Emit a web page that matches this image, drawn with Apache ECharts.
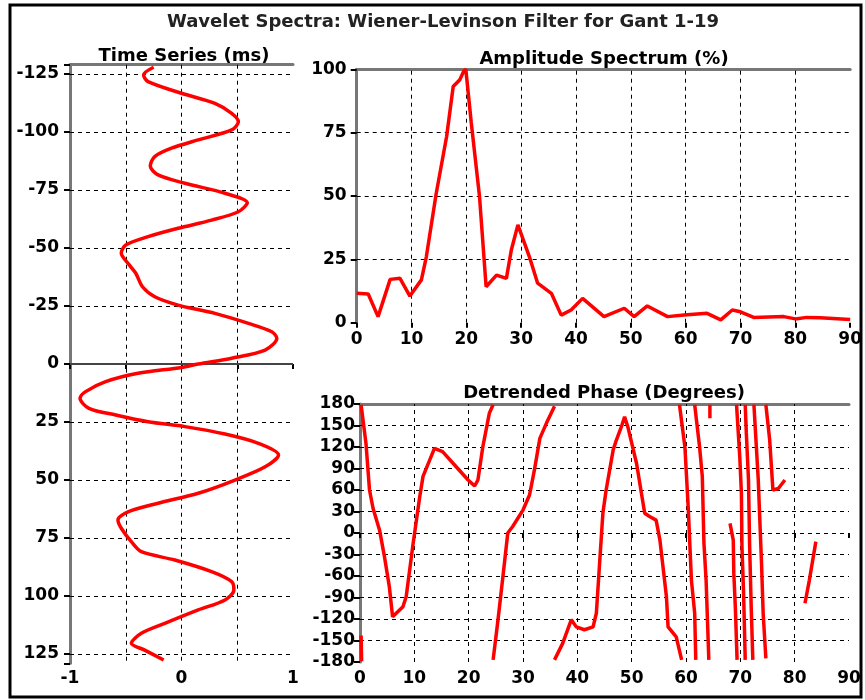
<!DOCTYPE html>
<html><head><meta charset="utf-8">
<script src="https://cdn.jsdelivr.net/npm/echarts@6/dist/echarts.min.js"></script>
<style>html,body{margin:0;padding:0;background:#fff}#c{width:865px;height:700px}</style>
</head><body><div id="c"></div>
<script>
const titleText = 'Wavelet Spectra: Wiener-Levinson Filter for Gant 1-19';
const panelTitles = ['Time Series (ms)', 'Amplitude Spectrum (%)', 'Detrended Phase (Degrees)'];

// Time series (time in ms, amplitude)
const tsTime  = [-127.9,-124.6,-121.7,-116.7,-112.3,-108,-104.4,-100.9,-96.6,-93,-89.4,-85.3,-81.5,-77.9,-73.6,-69.5,-65.6,-62,-58.5,-54.9,-51.3,-47.7,-43.4,-39.1,-33.3,-29,-25.4,-21.8,-17.5,-13.9,-11.1,-6,-2.5,0,1.5,4,7.6,11.9,14.8,19.1,22,24.9,27,30.2,34.2,39.2,44.3,50,55.7,60,63.7,67.2,70.8,76.6,80.9,84.5,89.5,93.8,97.4,101.7,106,111.8,116.1,120.4,123.3,127.6];
const tsValue = [-0.25,-0.34,-0.30,0.0,0.30,0.45,0.51,0.45,0.15,-0.09,-0.24,-0.28,-0.21,0.03,0.39,0.59,0.51,0.27,-0.03,-0.30,-0.50,-0.54,-0.48,-0.41,-0.35,-0.24,-0.03,0.30,0.60,0.81,0.855,0.75,0.45,0.15,0.0,-0.39,-0.68,-0.86,-0.91,-0.83,-0.59,-0.30,0.03,0.39,0.69,0.87,0.75,0.48,0.15,-0.21,-0.48,-0.57,-0.54,-0.45,-0.36,-0.06,0.27,0.45,0.47,0.39,0.15,-0.15,-0.36,-0.45,-0.33,-0.16];
const tsYTicks = [-125,-100,-75,-50,-25,0,25,50,75,100,125];
const tsYEndTicks = [-129,129];
const tsXTicks = [-1,-0.5,0,0.5,1];
const tsXLabels = [-1,0,1];

// Amplitude spectrum
const ampFreq  = [0,2.1,3.9,6.1,7.9,9.7,11.8,12.7,14.5,16.4,17.6,18.8,19.5,19.9,20.9,22.4,23.6,25.5,27.3,28.2,29.4,31.5,33,35.5,37.3,39.1,41.2,45.1,48.8,50.6,53,56.7,59.7,63.9,66.4,68.5,70,72.4,77.9,80,82.1,84.5,90];
const ampValue = [11.6,11.3,2.4,17.1,17.5,10.5,16.9,26,51,73.5,93.2,95.9,99.1,100,78.8,49.8,14.2,18.8,17.5,28.7,38.6,26,15.6,11.6,3,5,9.6,2.4,5.7,2.4,6.6,2.4,3,3.7,1.1,5,4.3,2.1,2.4,1.5,2.1,2,1.3];
const ampYTicks = [0,25,50,75,100];
const freqTicks = [0,10,20,30,40,50,60,70,80,90];

// Detrended phase: wrapped segments [freq, degrees]
const phaseSegments = [
  [[0.2,-143],[0.3,-179]],
  [[0.2,179],[1.1,125],[1.75,60],[2.4,34.5],[3.6,4],[4.5,-33],[5.4,-75],[6.0,-117],[7.9,-103],[8.5,-89],[9.7,-19],[11,51],[11.6,79],[13.7,118],[15.2,113.5],[17.7,92.5],[19.9,74],[21.1,65.6],[21.7,74],[22.6,120],[23.8,167],[24.5,179]],
  [[24.5,-177],[25.4,-121],[26.3,-61],[27.2,0],[28.1,9],[30,32],[31.2,53],[32.1,88],[33.1,132],[34.3,153],[35.8,177]],
  [[35.8,-177],[37.3,-154],[38.9,-121],[39.8,-131],[41.3,-135],[42.9,-131],[43.5,-112],[44.1,-42],[44.7,27.5],[45.3,60],[46.6,116],[47.2,130],[48.1,148],[48.7,162],[49.3,148],[50.9,97],[52.4,27.5],[53.3,23],[54.5,18],[55.2,-10],[56.4,-89],[56.7,-131],[58.2,-145],[59.2,-177]],
  [[58.8,179],[59.8,120],[60.4,37],[61,-66],[61.6,-112],[61.8,-177]],
  [[61.6,179],[62.5,120],[63,79],[63.3,-14],[63.7,-66],[64.2,-177]],
  [[64.4,179],[64.4,160]],
  [[68.1,13.5],[68.7,-10],[68.8,-56],[69.1,-107],[69.4,-177]],
  [[69.3,179],[69.9,106],[70.2,55],[70.3,-19],[70.6,-84],[70.9,-177]],
  [[70.9,179],[71.1,140],[71.5,74],[71.7,-14],[72,-103],[72.3,-177]],
  [[72.5,179],[73.3,74],[73.9,-42],[74.2,-112],[74.7,-175]],
  [[74.7,179],[75.4,130],[76,60],[77,62],[78.2,74]],
  [[81.9,-98],[82.7,-66],[83.9,-12]]
];
const phaseYTicks = [-180,-150,-120,-90,-60,-30,0,30,60,90,120,150,180];

const FONT = 'DejaVu Sans';
const RED = '#ff0000';
const AXISGRAY = '#777777';
const lbl = (extra) => Object.assign({color:'#000', fontFamily:FONT, fontWeight:'bold', fontSize:17}, extra||{});
const dash = {color:'#000', width:1, type:[4,4]};

function gridMarks(xVals, yVals, extra) {
  const d = xVals.map(v => ({xAxis:v})).concat(yVals.map(v => ({yAxis:v})));
  return {silent:true, symbol:['none','none'], label:{show:false}, lineStyle:dash, z:1,
          data: d.concat(extra||[])};
}

const chart = echarts.init(document.getElementById('c'), null, {renderer:'canvas'});
const grids = [
  {left:70, top:64.7, width:223, height:598.6},
  {left:356.7, top:69.3, width:495, height:253.4},
  {left:360, top:404, width:489, height:258}
];
const bottomX = (gi, min, max, ticks, labels, margin) => ({
  type:'value', gridIndex:gi, min:min, max:max, position:'bottom',
  axisLine:{show:false},
  axisTick:{show:true, customValues:ticks, length:5, lineStyle:{color:'#000', width:2}},
  axisLabel:{customValues:labels, margin:margin, ...lbl()},
  splitLine:{show:false}
});
const topX = (gi, min, max) => ({
  type:'value', gridIndex:gi, min:min, max:max, position:'top',
  axisLine:{show:true, lineStyle:{color:AXISGRAY, width:3}},
  axisTick:{show:false}, axisLabel:{show:false}, splitLine:{show:false}
});
const leftY = (gi, min, max, ticks, labels, margin, inverse) => ({
  type:'value', gridIndex:gi, min:min, max:max, inverse:!!inverse,
  axisLine:{show:true, onZero:false, lineStyle:{color:AXISGRAY, width:3}},
  axisTick:{show:true, customValues:ticks, length:6, lineStyle:{color:'#000', width:2}},
  axisLabel:{customValues:labels, margin:margin, ...lbl()},
  splitLine:{show:false}
});

const series = [];
// grid lines (library scales via markLine)
series.push({type:'line', xAxisIndex:0, yAxisIndex:0, data:[[-1,-129],[1,129]], showSymbol:false, silent:true,
  lineStyle:{opacity:0}, z:1,
  markLine: gridMarks(tsXTicks.slice(1,-1), tsYTicks.filter(v=>v!==0),
    [{yAxis:0, lineStyle:{type:'solid', color:'#444', width:2}}])});
series.push({type:'line', xAxisIndex:2, yAxisIndex:1, data:[[0,0],[90,100]], showSymbol:false, silent:true,
  lineStyle:{opacity:0}, z:1, markLine: gridMarks(freqTicks.slice(1,-1), ampYTicks.slice(1,-1))});
series.push({type:'line', xAxisIndex:4, yAxisIndex:2, data:[[0,-180],[90,180]], showSymbol:false, silent:true,
  lineStyle:{opacity:0}, z:1, markLine: gridMarks(freqTicks.slice(1,-1), phaseYTicks.slice(1,-1))});

series.push({type:'line', name:'Time Series', xAxisIndex:0, yAxisIndex:0, z:5,
  data: tsTime.map((t,i)=>[tsValue[i], t]), showSymbol:false, smooth:0.3, clip:false,
  lineStyle:{color:RED, width:3.5}});
series.push({type:'line', name:'Amplitude', xAxisIndex:2, yAxisIndex:1, z:5,
  data: ampFreq.map((f,i)=>[f, ampValue[i]]), showSymbol:false,
  lineStyle:{color:RED, width:3.5}});
phaseSegments.forEach((seg, k) => series.push({type:'line', name:'Phase'+k, xAxisIndex:4, yAxisIndex:2, z:5,
  data: seg, showSymbol:false, lineStyle:{color:RED, width:3.5}}));

const option = {
  animation:false,
  backgroundColor:'#fff',
  grid: grids,
  xAxis: [
    bottomX(0,-1,1,tsXTicks,tsXLabels,7), topX(0,-1,1),
    bottomX(1,0,90,freqTicks,freqTicks,8), topX(1,0,90),
    bottomX(2,0,90,freqTicks,freqTicks,8), topX(2,0,90)
  ],
  yAxis: [
    leftY(0,-129,129,tsYTicks.concat(tsYEndTicks),tsYTicks,11,true),
    leftY(1,0,100,ampYTicks,ampYTicks,10,false),
    leftY(2,-180,180,phaseYTicks,phaseYTicks,5,false)
  ],
  series: series,
  graphic: [
    {type:'rect', shape:{x:10, y:5, width:851, height:692}, style:{fill:null, stroke:'#000', lineWidth:3}, z:100},
    {type:'text', x:443, y:22, style:{text:titleText, textAlign:'center', textVerticalAlign:'middle', font:'bold 18px "DejaVu Sans"', fill:'#222'}},
    {type:'text', x:184, y:56, style:{text:panelTitles[0], textAlign:'center', textVerticalAlign:'middle', font:'bold 18px "DejaVu Sans"', fill:'#000'}},
    {type:'text', x:604, y:59, style:{text:panelTitles[1], textAlign:'center', textVerticalAlign:'middle', font:'bold 18px "DejaVu Sans"', fill:'#000'}},
    {type:'text', x:604, y:393, style:{text:panelTitles[2], textAlign:'center', textVerticalAlign:'middle', font:'bold 18px "DejaVu Sans"', fill:'#000'}}
  ]
};
chart.setOption(option);
</script>
</body></html>
